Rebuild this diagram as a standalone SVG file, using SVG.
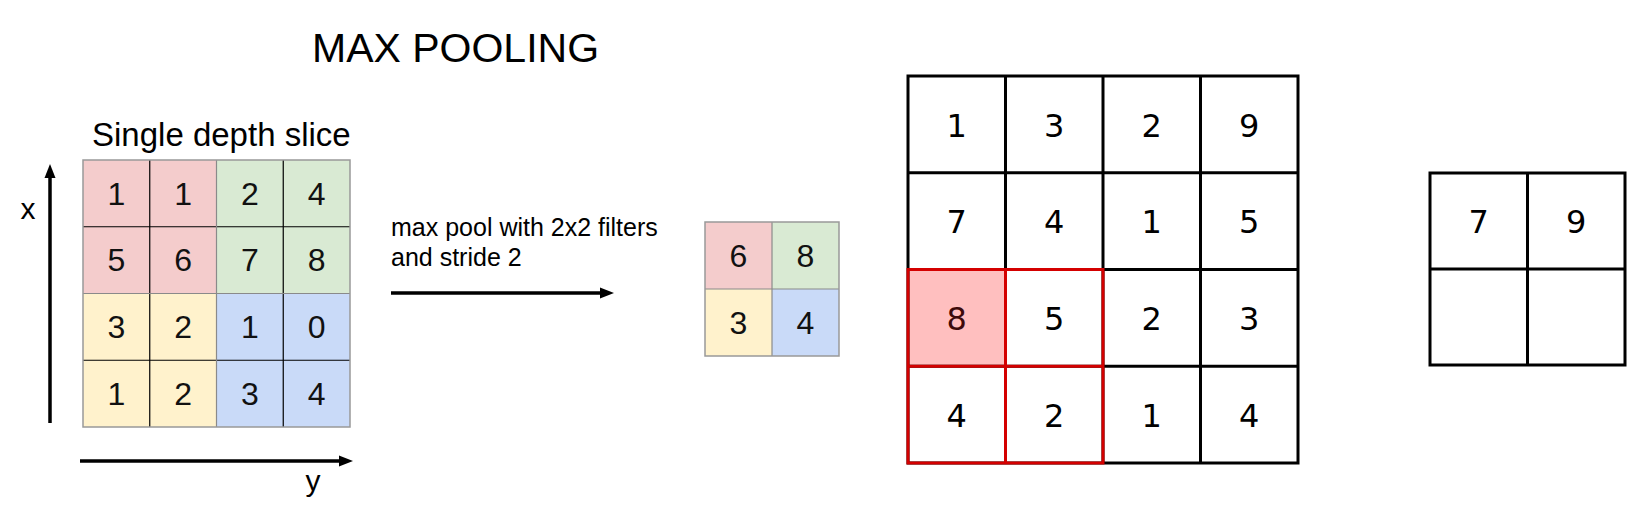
<svg xmlns="http://www.w3.org/2000/svg" width="1634" height="506" viewBox="0 0 1634 506">
<defs>
<style>
.sans{font-family:"Liberation Sans",Arial,sans-serif;fill:#000}
.num{font-family:"Liberation Sans",Arial,sans-serif;font-size:32px;text-anchor:middle;fill:#111}
.dnum{font-family:"DejaVu Sans",sans-serif;font-size:32px;text-anchor:middle;fill:#000}
.thin{stroke:#000;stroke-width:1.2}
.mid{stroke:#8a8a8a;stroke-width:1.2}
.outer{fill:none;stroke:#999;stroke-width:1.5}
.grid{stroke:#000;stroke-width:3;fill:none}
.red{stroke:#d40000;stroke-width:3;fill:none}
.axis{stroke:#000;stroke-width:3.5}
</style>
</defs>
<rect width="1634" height="506" fill="#fff"/>
<g id="title"><text class="sans" x="312" y="62" font-size="41">MAX POOLING</text></g>
<g id="input-slice">
<text class="sans" x="92" y="145.5" font-size="33">Single depth slice</text>
<rect x="83" y="160" width="133.5" height="133.5" fill="#f4cccc"/>
<rect x="216.5" y="160" width="133.5" height="133.5" fill="#d9ead3"/>
<rect x="83" y="293.5" width="133.5" height="133.5" fill="#fff2cc"/>
<rect x="216.5" y="293.5" width="133.5" height="133.5" fill="#c9daf8"/>
<line class="thin" x1="149.75" y1="160" x2="149.75" y2="427"/>
<line class="thin" x1="283.25" y1="160" x2="283.25" y2="427"/>
<line class="thin" x1="83" y1="226.75" x2="350" y2="226.75"/>
<line class="thin" x1="83" y1="360.25" x2="350" y2="360.25"/>
<line class="mid" x1="216.5" y1="160" x2="216.5" y2="427"/>
<line class="mid" x1="83" y1="293.5" x2="350" y2="293.5"/>
<rect class="outer" x="83" y="160" width="267" height="267"/>
<text class="num" x="116.4" y="204.5">1</text><text class="num" x="183.1" y="204.5">1</text><text class="num" x="249.9" y="204.5">2</text><text class="num" x="316.6" y="204.5">4</text>
<text class="num" x="116.4" y="271.3">5</text><text class="num" x="183.1" y="271.3">6</text><text class="num" x="249.9" y="271.3">7</text><text class="num" x="316.6" y="271.3">8</text>
<text class="num" x="116.4" y="338">3</text><text class="num" x="183.1" y="338">2</text><text class="num" x="249.9" y="338">1</text><text class="num" x="316.6" y="338">0</text>
<text class="num" x="116.4" y="404.8">1</text><text class="num" x="183.1" y="404.8">2</text><text class="num" x="249.9" y="404.8">3</text><text class="num" x="316.6" y="404.8">4</text>
</g>
<g id="axes">
<line class="axis" x1="50" y1="423" x2="50" y2="176"/>
<polygon points="50,164 44.5,178 55.5,178" fill="#000"/>
<text class="sans" x="28" y="219" font-size="30" text-anchor="middle">x</text>
<line class="axis" x1="80" y1="461" x2="341" y2="461"/>
<polygon points="353,461 339,455.5 339,466.5" fill="#000"/>
<text class="sans" x="313" y="491" font-size="30" text-anchor="middle">y</text>
</g>
<g id="connectors">
<line class="axis" x1="391" y1="293" x2="601" y2="293"/>
<polygon points="614,293 600,287.5 600,298.5" fill="#000"/>
<text class="sans" x="391" y="235.5" font-size="25">max pool with 2x2 filters</text>
<text class="sans" x="391" y="265.5" font-size="25">and stride 2</text>
</g>
<g id="pooled-output">
<rect x="705" y="222" width="67" height="67" fill="#f4cccc"/>
<rect x="772" y="222" width="67" height="67" fill="#d9ead3"/>
<rect x="705" y="289" width="67" height="67" fill="#fff2cc"/>
<rect x="772" y="289" width="67" height="67" fill="#c9daf8"/>
<line class="mid" x1="772" y1="222" x2="772" y2="356"/>
<line class="mid" x1="705" y1="289" x2="839" y2="289"/>
<rect class="outer" x="705" y="222" width="134" height="134"/>
<text class="num" x="738.5" y="266.5">6</text><text class="num" x="805.5" y="266.5">8</text>
<text class="num" x="738.5" y="333.5">3</text><text class="num" x="805.5" y="333.5">4</text>
</g>
<g id="example-input">
<rect x="908" y="269.5" width="97.5" height="96.75" fill="#ffbfbf"/>
<rect class="grid" x="908" y="76" width="390" height="387"/>
<line class="grid" x1="1005.5" y1="76" x2="1005.5" y2="463"/>
<line class="grid" x1="1103" y1="76" x2="1103" y2="463"/>
<line class="grid" x1="1200.5" y1="76" x2="1200.5" y2="463"/>
<line class="grid" x1="908" y1="172.75" x2="1298" y2="172.75"/>
<line class="grid" x1="908" y1="269.5" x2="1298" y2="269.5"/>
<line class="grid" x1="908" y1="366.25" x2="1298" y2="366.25"/>
<rect class="red" x="908" y="269.5" width="195" height="193.5"/>
<line class="red" x1="1005.5" y1="269.5" x2="1005.5" y2="463"/>
<line class="red" x1="908" y1="366.25" x2="1103" y2="366.25"/>
<text class="dnum" x="956.75" y="136.5">1</text><text class="dnum" x="1054.25" y="136.5">3</text><text class="dnum" x="1151.75" y="136.5">2</text><text class="dnum" x="1249.25" y="136.5">9</text>
<text class="dnum" x="956.75" y="233.2">7</text><text class="dnum" x="1054.25" y="233.2">4</text><text class="dnum" x="1151.75" y="233.2">1</text><text class="dnum" x="1249.25" y="233.2">5</text>
<text class="dnum" x="956.75" y="330" style="fill:#3d0a0a">8</text><text class="dnum" x="1054.25" y="330">5</text><text class="dnum" x="1151.75" y="330">2</text><text class="dnum" x="1249.25" y="330">3</text>
<text class="dnum" x="956.75" y="426.7">4</text><text class="dnum" x="1054.25" y="426.7">2</text><text class="dnum" x="1151.75" y="426.7">1</text><text class="dnum" x="1249.25" y="426.7">4</text>
</g>
<g id="example-output">
<rect class="grid" x="1430" y="173" width="195" height="192"/>
<line class="grid" x1="1527.5" y1="173" x2="1527.5" y2="365"/>
<line class="grid" x1="1430" y1="269" x2="1625" y2="269"/>
<text class="dnum" x="1478.75" y="233">7</text><text class="dnum" x="1576.25" y="233">9</text>
</g>
</svg>
